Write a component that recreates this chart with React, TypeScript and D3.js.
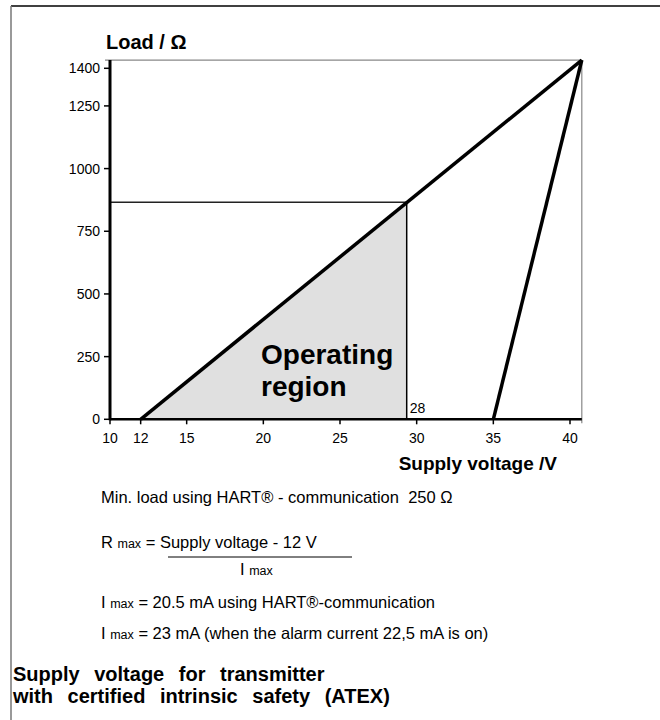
import React from 'react';
import * as d3 from 'd3';

// axis ticks
const xTicks = [10, 12, 15, 20, 25, 30, 35, 40];
const yTicks = [0, 250, 500, 750, 1000, 1250, 1400];

// plot frame limits (volts / ohms)
const frameV = 40.77;
const frameR = 1433;

// load limit lines
const limitLine = [
  { v: 12, r: 0 },
  { v: 40.77, r: 1433 },
];
const steepLine = [
  { v: 35, r: 0 },
  { v: 40.77, r: 1433 },
];
const operatingRegion = [
  { v: 12, r: 0 },
  { v: 29.35, r: 864 },
  { v: 29.35, r: 0 },
];
const refPoint = { v: 29.35, r: 866, label: '28' };

const notes = [
  'Min. load using HART® - communication  250 Ω',
  'I max = 20.5 mA using HART®-communication',
  'I max = 23 mA (when the alarm current 22,5 mA is on)',
];
const titleLines = ['Supply voltage for transmitter', 'with certified intrinsic safety (ATEX)'];

const FONT = '"Liberation Sans", Arial, sans-serif';
const NOTE = 16.5;
const SUB = 12.5;

export default function App() {
  const width = 660;
  const height = 720;

  const x = d3.scaleLinear().domain([10, 40]).range([110, 570]);
  const y = d3.scaleLinear().domain([0, 1400]).range([419.3, 68.3]);

  const line = d3
    .line<{ v: number; r: number }>()
    .x((d) => x(d.v))
    .y((d) => y(d.r));

  const x0 = x(10);
  const y0 = y(0);
  const xR = x(frameV);
  const yT = y(frameR);

  // text with a small "max" subscript
  const maxNote = (text: string, yy: number) => {
    const rest = text.replace(/^I max/, '');
    return (
      <text x={101} y={yy} fontSize={NOTE} fontFamily={FONT} fill="#000" style={{ whiteSpace: 'pre' }}>
        I <tspan fontSize={SUB}>max</tspan>
        {rest}
      </text>
    );
  };

  return (
    <div style={{ position: 'absolute', left: 0, top: 0 }}>
      <svg width={width} height={height} style={{ display: 'block', background: '#fff' }}>
        {/* page border */}
        <line x1={11} x2={660} y1={6} y2={6} stroke="#000" strokeWidth={1.5} />
        <line x1={11} x2={11} y1={6} y2={720} stroke="#777" strokeWidth={1.5} />

        {/* operating region */}
        <path d={line(operatingRegion) + 'Z'} fill="#e0e0e0" stroke="none" />

        {/* frame */}
        <line x1={105} x2={xR} y1={yT} y2={yT} stroke="#888" strokeWidth={1.2} />
        <line x1={xR} x2={xR} y1={yT} y2={y0 + 4} stroke="#888" strokeWidth={1.2} />

        {/* reference lines */}
        <line x1={x0} x2={x(refPoint.v)} y1={y(refPoint.r)} y2={y(refPoint.r)} stroke="#222" strokeWidth={1.5} />
        <line x1={x(refPoint.v)} x2={x(refPoint.v)} y1={y(refPoint.r)} y2={y0} stroke="#000" strokeWidth={1.5} />
        <text x={x(refPoint.v) + 3} y={y0 - 6} fontSize={14} fontFamily={FONT}>
          {refPoint.label}
        </text>

        {/* limit lines */}
        <path d={line(limitLine) ?? ''} fill="none" stroke="#000" strokeWidth={3.5} />
        <path d={line(steepLine) ?? ''} fill="none" stroke="#000" strokeWidth={3.5} />

        {/* axes */}
        <line x1={x0} x2={xR} y1={y0} y2={y0} stroke="#000" strokeWidth={2.5} />
        <line x1={x0} x2={x0} y1={yT} y2={y0 + 1} stroke="#000" strokeWidth={3} />
        {yTicks.map((t) => (
          <g key={'y' + t}>
            <line x1={x0 - 6} x2={x0} y1={y(t)} y2={y(t)} stroke="#000" strokeWidth={1.5} />
            <text x={x0 - 10} y={y(t) + 5} textAnchor="end" fontSize={14} fontFamily={FONT}>
              {t}
            </text>
          </g>
        ))}
        {xTicks.map((t) => (
          <g key={'x' + t}>
            <line x1={x(t)} x2={x(t)} y1={y0} y2={y0 + 5} stroke="#000" strokeWidth={1.5} />
            <text x={x(t)} y={y0 + 24} textAnchor="middle" fontSize={14} fontFamily={FONT}>
              {t}
            </text>
          </g>
        ))}

        {/* axis titles */}
        <text x={106} y={49} fontSize={20} fontWeight="bold" fontFamily={FONT}>
          Load / Ω
        </text>
        <text x={557} y={470} textAnchor="end" fontSize={19} fontWeight="bold" fontFamily={FONT}>
          Supply voltage /V
        </text>

        {/* region label */}
        <text x={261} y={364} fontSize={28} fontWeight="bold" fontFamily={FONT}>
          Operating
        </text>
        <text x={261} y={396} fontSize={28} fontWeight="bold" fontFamily={FONT}>
          region
        </text>

        {/* notes */}
        <text x={101} y={503} fontSize={NOTE} fontFamily={FONT} style={{ whiteSpace: 'pre' }}>
          {notes[0]}
        </text>
        <text x={101} y={548} fontSize={NOTE} fontFamily={FONT}>
          R <tspan fontSize={SUB}>max</tspan> = Supply voltage - 12 V
        </text>
        <line x1={168} x2={352} y1={557} y2={557} stroke="#000" strokeWidth={1} />
        <text x={240} y={575} fontSize={NOTE} fontFamily={FONT}>
          I <tspan fontSize={SUB}>max</tspan>
        </text>
        {maxNote(notes[1], 608)}
        {maxNote(notes[2], 639)}

        {/* title */}
        {titleLines.map((t, i) => (
          <text
            key={t}
            x={13}
            y={681 + i * 22}
            fontSize={20}
            fontWeight="bold"
            fontFamily={FONT}
            wordSpacing={9}
          >
            {t}
          </text>
        ))}
      </svg>
    </div>
  );
}
